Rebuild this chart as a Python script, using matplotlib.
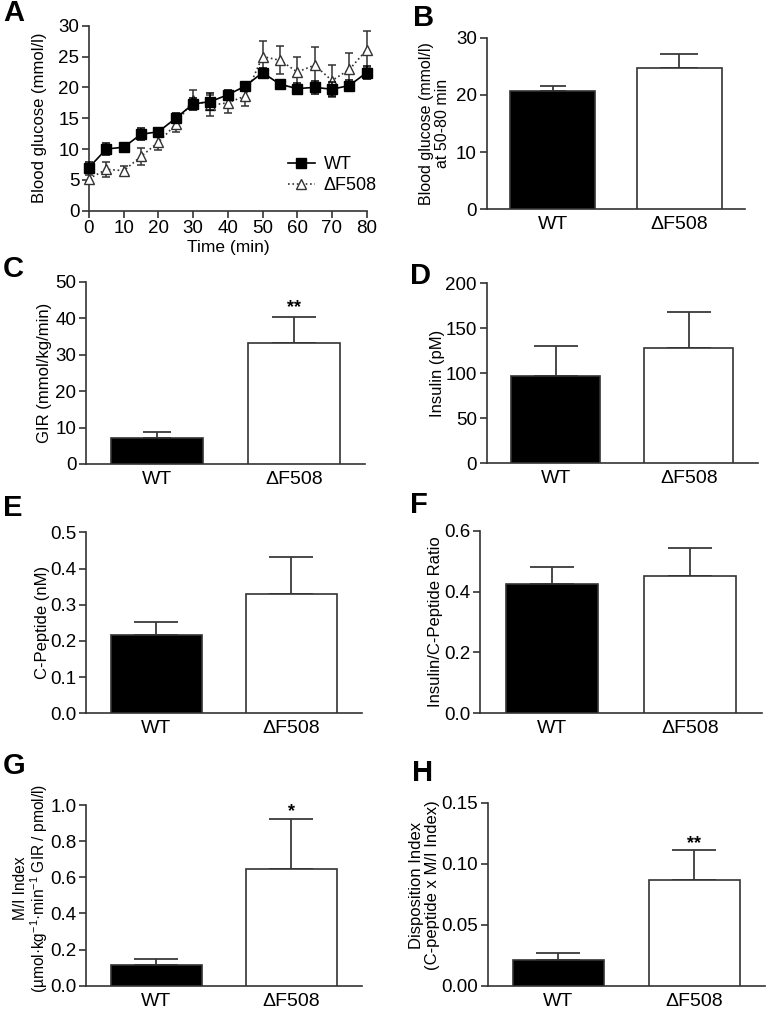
import matplotlib
matplotlib.use("Agg")
import matplotlib.pyplot as plt
import numpy as np

plt.rcParams['font.family'] = ['Liberation Sans', 'DejaVu Sans']
plt.rcParams['mathtext.fontset'] = 'custom'
plt.rcParams['mathtext.rm'] = 'Liberation Sans'
plt.rcParams['mathtext.it'] = 'Liberation Sans:italic'

# ---- data ----
groups = ['WT', '\u0394F508']

time_min = [0, 5, 10, 15, 20, 25, 30, 35, 40, 45, 50, 55, 60, 65, 70, 75, 80]
wt_glucose = [7.0, 10.0, 10.3, 12.4, 12.8, 15.0, 17.3, 17.7, 18.8, 20.2, 22.4, 20.5, 19.8, 20.0, 19.7, 20.3, 22.4]
wt_glucose_err = [0.9, 0.9, 0.7, 1.0, 0.5, 0.8, 0.9, 1.4, 0.7, 0.7, 0.7, 0.6, 0.9, 1.0, 1.1, 0.9, 1.0]
df_glucose = [5.2, 6.7, 6.5, 8.8, 11.1, 14.0, 18.0, 17.1, 17.5, 18.6, 25.0, 24.4, 22.5, 23.6, 21.1, 22.9, 26.1]
df_glucose_err = [0.6, 1.2, 0.8, 1.4, 1.2, 1.3, 1.5, 1.7, 1.7, 1.6, 2.6, 2.3, 2.5, 3.0, 2.6, 2.6, 3.0]

glucose_50_80 = [20.7, 24.7]
glucose_50_80_err = [0.9, 2.4]
gir = [7.2, 33.3]
gir_err = [1.7, 7.0]
insulin = [97, 128]
insulin_err = [33, 40]
cpeptide = [0.215, 0.330]
cpeptide_err = [0.037, 0.102]
ratio = [0.425, 0.452]
ratio_err = [0.055, 0.090]
mi_index = [0.115, 0.645]
mi_index_err = [0.035, 0.275]
disposition = [0.021, 0.087]
disposition_err = [0.0055, 0.024]

W, H = 769, 1014
fig = plt.figure(figsize=(W / 100, H / 100), dpi=100)

AX_COL = '#333333'
ERR_COL = '#3a3a3a'
TICK_FS = 13.5
CAT_FS = 14
LAB_FS = 12


def px_axes(left, top, right, bottom):
    return fig.add_axes([left / W, 1 - bottom / H, (right - left) / W, (bottom - top) / H])


def style(ax):
    for s in ['top', 'right']:
        ax.spines[s].set_visible(False)
    for s in ['left', 'bottom']:
        ax.spines[s].set_color(AX_COL)
        ax.spines[s].set_linewidth(1.2)
    ax.tick_params(axis='y', direction='out', length=5, width=1.2, color=AX_COL,
                   labelsize=TICK_FS, pad=2)


def bar_panel(ax, vals, errs, ylim, yticks, ylabel, label_x, caps=(16, 16),
              yfmt=None, star=None, star_y=None, label_size=LAB_FS, label_y=0.5):
    style(ax)
    x = np.arange(len(groups))
    ax.bar(x, vals, width=0.67, color=['black', 'white'], edgecolor=AX_COL,
           linewidth=1.2, zorder=3)
    for i in range(len(groups)):
        ax.errorbar(x[i], vals[i], yerr=[[0], [errs[i]]], fmt='none', ecolor=ERR_COL,
                    elinewidth=1.3, capsize=caps[i], capthick=1.3, zorder=2)
    ax.set_xlim(-0.52, 1.52)
    ax.set_ylim(*ylim)
    ax.set_yticks(yticks)
    if yfmt:
        ax.set_yticklabels([yfmt.format(t) for t in yticks])
    ax.set_xticks(x)
    ax.set_xticklabels(groups, fontsize=CAT_FS)
    ax.tick_params(axis='x', length=0, pad=5)
    ax.set_ylabel(ylabel, fontsize=label_size, linespacing=1.05)
    # label_x is where the right edge of the (rotated) label sits
    ax.yaxis.set_label_coords(label_x, label_y)
    if star:
        ax.text(1, star_y, star, ha='center', va='center', fontsize=13, fontweight='bold')


# ---- A: time course ----
axA = px_axes(89, 25.7, 366.7, 210.7)
style(axA)
wt_eb = axA.errorbar(time_min, wt_glucose, yerr=wt_glucose_err, fmt='-s', color='black',
                     mfc='black', mec='black', ms=7, lw=1.2, ecolor='black', elinewidth=1.1,
                     capsize=3, capthick=1.1, clip_on=False, zorder=4)
df_eb = axA.errorbar(time_min, df_glucose, yerr=df_glucose_err, fmt=':^', color='#333333',
                     mfc='white', mec='#333333', ms=7, lw=1.2, ecolor='#333333', elinewidth=1.1,
                     capsize=3, capthick=1.1, clip_on=False, zorder=3)
axA.set_xlim(0, 80)
axA.set_ylim(0, 30)
axA.set_xticks(range(0, 81, 10))
axA.set_yticks(range(0, 31, 5))
axA.tick_params(axis='x', direction='out', length=5, width=1.2, color=AX_COL,
                labelsize=TICK_FS, pad=2)
axA.set_xlabel('Time (min)', fontsize=12.5, labelpad=2)
axA.set_ylabel('Blood glucose (mmol/l)', fontsize=12)
axA.yaxis.set_label_coords(-0.151, 0.5)
# legend shows only line + marker, no error bars
leg = axA.legend([wt_eb.lines[0], df_eb.lines[0]], groups,
                 loc='upper left', bbox_to_anchor=(0.69, 0.335), frameon=False,
                 fontsize=13, handlelength=1.5, handletextpad=0.5, borderaxespad=0,
                 labelspacing=0.25)

# ---- B ----
axB = px_axes(486.7, 37.7, 745, 209.3)
bar_panel(axB, glucose_50_80, glucose_50_80_err, (0, 30), [0, 10, 20, 30],
          'Blood glucose (mmol/l)\nat 50-80 min', -0.142, caps=(9.5, 14),
          label_size=11.5)

# ---- C ----
axC = px_axes(86, 281.7, 365, 464)
bar_panel(axC, gir, gir_err, (0, 50), [0, 10, 20, 30, 40, 50],
          'GIR (mmol/kg/min)', -0.122, caps=(10, 16), star='**', star_y=42.8)

# ---- D ----
axD = px_axes(486.7, 283.3, 758, 463.3)
bar_panel(axD, insulin, insulin_err, (0, 200), [0, 50, 100, 150, 200],
          'Insulin (pM)', -0.154)

# ---- E ----
axE = px_axes(86, 532.3, 361.7, 713.3)
bar_panel(axE, cpeptide, cpeptide_err, (0, 0.5), [0, 0.1, 0.2, 0.3, 0.4, 0.5],
          'C-Peptide (nM)', -0.131, yfmt='{:.1f}')

# ---- F ----
axF = px_axes(480, 530.7, 761.7, 713.3)
bar_panel(axF, ratio, ratio_err, (0, 0.6), [0, 0.2, 0.4, 0.6],
          'Insulin/C-Peptide Ratio', -0.131, yfmt='{:.1f}')

# ---- G ----
axG = px_axes(86, 805, 361.7, 985.7)
bar_panel(axG, mi_index, mi_index_err, (0, 1.0), [0, 0.2, 0.4, 0.6, 0.8, 1.0],
          'M/I Index\n(\u00b5mol\u00b7kg$^{-1}$\u00b7min$^{-1}$ GIR / pmol/l)', -0.13,
          yfmt='{:.1f}', star='*', star_y=0.965, label_size=11.2, label_y=0.54)

# ---- H ----
axH = px_axes(487.7, 802.7, 765, 985.7)
bar_panel(axH, disposition, disposition_err, (0, 0.15), [0, 0.05, 0.10, 0.15],
          'Disposition Index\n(C-peptide x M/I Index)', -0.172,
          yfmt='{:.2f}', star='**', star_y=0.1165, label_y=0.55)

# panel letters
letters = [('A', 3, 21), ('B', 413, 26), ('C', 3, 277), ('D', 410, 284),
           ('E', 3, 516), ('F', 410, 513), ('G', 3, 774), ('H', 412, 781)]
for s, x, y in letters:
    fig.text(x / W, 1 - y / H, s, fontsize=21, fontweight='bold', ha='left', va='baseline')

fig.savefig('out.png', dpi=100)
